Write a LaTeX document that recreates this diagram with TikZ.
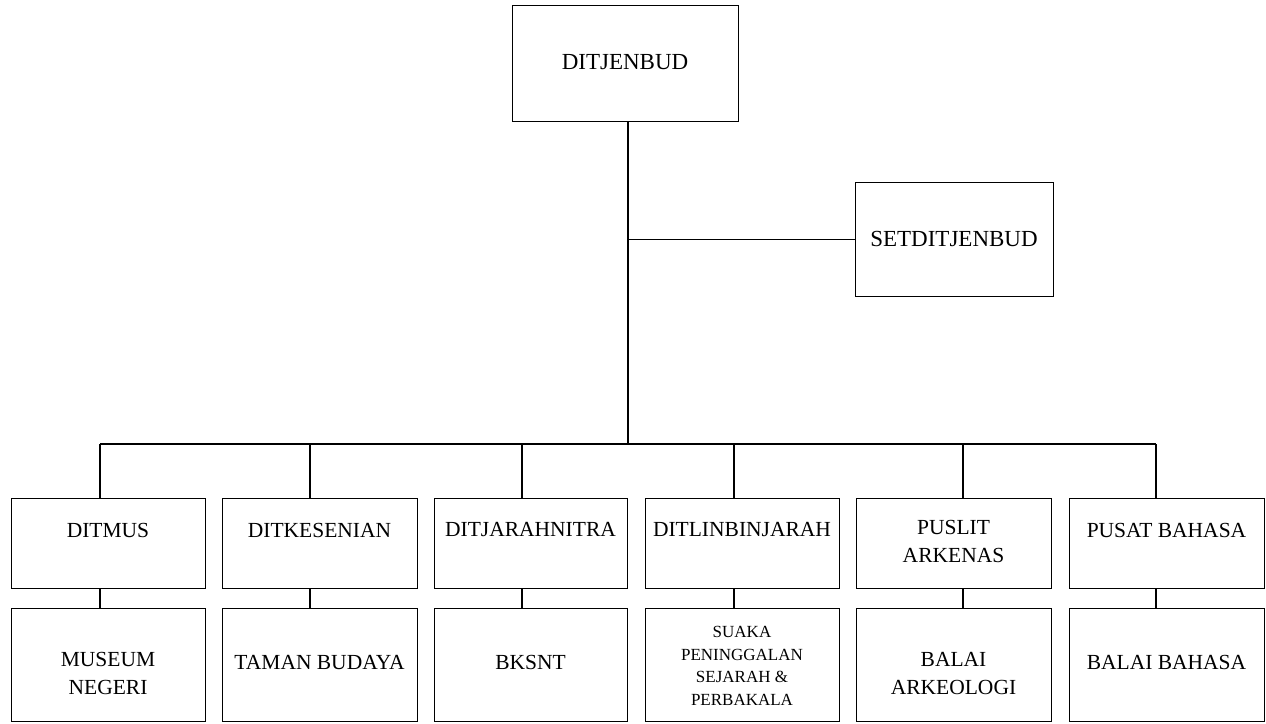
\documentclass[tikz,border=0pt]{standalone}
\usepackage{fontspec}
\setmainfont{Liberation Serif}
\begin{document}
\begin{tikzpicture}[x=1pt,y=-1pt,
  box/.style={draw, line width=1.3pt, rectangle, inner sep=0pt, anchor=north west},
  ln/.style={line width=1.3pt},
  big/.style={font=\fontsize{23}{28}\selectfont, align=center, inner sep=0pt},
  mid/.style={font=\fontsize{21.5}{28}\selectfont, align=center, inner sep=0pt},
  sml/.style={font=\fontsize{17}{22.5}\selectfont, align=center, inner sep=0pt}]
\useasboundingbox (0,0) rectangle (1266,723);
% top
\node[box, minimum width=226pt, minimum height=116pt] (top) at (512,5) {};
\node[big] (ttop) at (625,62) {DITJENBUD};
\node[box, minimum width=198pt, minimum height=114pt] (set) at (855,182) {};
\node[big] (tset) at (954,239) {SETDITJENBUD};
% row 1
\node[box, minimum width=194pt, minimum height=90pt] (r1) at (11,498) {};
\node[box, minimum width=195pt, minimum height=90pt] (r2) at (222,498) {};
\node[box, minimum width=193pt, minimum height=90pt] (r3) at (434,498) {};
\node[box, minimum width=194pt, minimum height=90pt] (r4) at (645,498) {};
\node[box, minimum width=195pt, minimum height=90pt] (r5) at (856,498) {};
\node[box, minimum width=195pt, minimum height=90pt] (r6) at (1069,498) {};
\node[mid] (tr1) at (108,530) {DITMUS};
\node[mid] (tr2) at (319.5,530) {DITKESENIAN};
\node[mid] (tr3) at (530.5,530) {DITJARAHNITRA};
\node[mid] (tr4) at (742,530) {DITLINBINJARAH};
\node[mid] (tr5) at (953.5,541) {PUSLIT\\ARKENAS};
\node[mid] (tr6) at (1166.5,530) {PUSAT BAHASA};
% row 2
\node[box, minimum width=194pt, minimum height=113pt] (s1) at (11,608) {};
\node[box, minimum width=195pt, minimum height=113pt] (s2) at (222,608) {};
\node[box, minimum width=193pt, minimum height=113pt] (s3) at (434,608) {};
\node[box, minimum width=194pt, minimum height=113pt] (s4) at (645,608) {};
\node[box, minimum width=195pt, minimum height=113pt] (s5) at (856,608) {};
\node[box, minimum width=195pt, minimum height=113pt] (s6) at (1069,608) {};
\node[mid] (ts1) at (108,673) {MUSEUM\\NEGERI};
\node[mid] (ts2) at (319.5,662) {TAMAN BUDAYA};
\node[mid] (ts3) at (530.5,662) {BKSNT};
\node[sml] (ts4) at (742,666) {SUAKA\\PENINGGALAN\\SEJARAH \&\\PERBAKALA};
\node[mid] (ts5) at (953.5,673) {BALAI\\ARKEOLOGI};
\node[mid] (ts6) at (1166.5,662) {BALAI BAHASA};
% connectors
\coordinate (j) at (628,444);
\coordinate (c1) at (100,444);
\coordinate (c2) at (310,444);
\coordinate (c3) at (522,444);
\coordinate (c4) at (734,444);
\coordinate (c5) at (963,444);
\coordinate (c6) at (1156,444);
\draw[ln] (top.south -| j) -- (j);
\draw[ln] (j |- set.west) -- (set.west);
\draw[ln] (c1) -- (c6);
\foreach \i in {1,...,6}{
  \draw[ln] (c\i) -- (c\i |- r\i.north);
  \draw[ln] (c\i |- r\i.south) -- (c\i |- s\i.north);
}
\end{tikzpicture}
\end{document}
